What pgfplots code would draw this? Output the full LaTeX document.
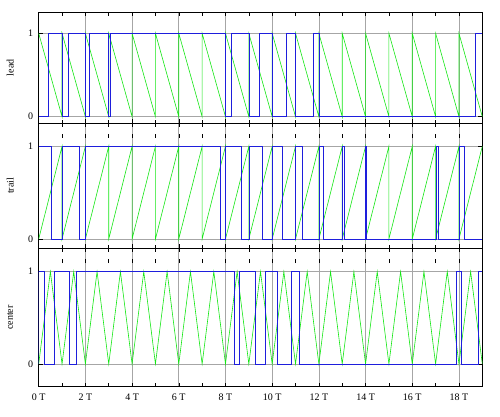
\documentclass[border=0pt]{standalone}
\usepackage{fontspec}
\setmainfont{Liberation Serif}
\usepackage{pgfplots}
\pgfplotsset{compat=1.18}
\definecolor{pwmcol}{RGB}{30,30,220}
\definecolor{carcol}{RGB}{20,230,20}
\tikzset{hid/.style={black, line width=0.5pt}}
\pgfplotsset{
  panel/.style={
    scale only axis, width=443.6pt,
    xmin=0, xmax=19,
    xtick={0,2,...,18}, minor xtick={1,3,...,17},
    ytick={0,1},
    tick align=inside, major tick length=4pt, minor tick length=3.5pt,
    tick style={black, line width=0.5pt},
    grid=major, major grid style={gray!70, line width=0.6pt},
    axis line style={line width=0.7pt},
    xticklabels={},
    yticklabel style={xshift=-2pt},
    /pgf/number format/assume math mode=true,
    ylabel style={at={(axis description cs:-0.0642,0.5)}, anchor=center},
    clip=true,
  },
  pwmline/.style={pwmcol, line width=0.6pt},
  carline/.style={carcol, line width=0.6pt},
}
\begin{document}
\begin{tikzpicture}
% ---------------- lead ----------------
\begin{axis}[panel, at={(38.7pt,404.7pt)}, anchor=north west, height=111pt,
  ymin=-0.079, ymax=1.252, ylabel={lead}]
\addplot[carline] coordinates {(0,1)(1,0)(1,1)(2,0)(2,1)(3,0)(3,1)(4,0)(4,1)(5,0)(5,1)(6,0)(6,1)(7,0)(7,1)(8,0)(8,1)(9,0)(9,1)(10,0)(10,1)(11,0)(11,1)(12,0)(12,1)(13,0)(13,1)(14,0)(14,1)(15,0)(15,1)(16,0)(16,1)(17,0)(17,1)(18,0)(18,1)(19,0)};
\addplot[pwmline] coordinates {(0,0)(0.41,0)(0.41,1)(1,1)(1,0)(1.27,0)(1.27,1)(2,1)(2,0)(2.17,0)(2.17,1)(3,1)(3,0)(3.08,0)(3.08,1)(8,1)(8,0)(8.24,0)(8.24,1)(9,1)(9,0)(9.45,0)(9.45,1)(10,1)(10,0)(10.59,0)(10.59,1)(11,1)(11,0)(11.76,0)(11.76,1)(12,1)(12,0)(18.7,0)(18.7,1)(19,1)};
\end{axis}
% ---------------- trail ----------------
\begin{axis}[panel, at={(38.7pt,293.7pt)}, anchor=north west, height=125pt,
  ymin=-0.1, ymax=1.248, ylabel={trail}]
\addplot[carline] coordinates {(0,0)(1,1)(1,0)(2,1)(2,0)(3,1)(3,0)(4,1)(4,0)(5,1)(5,0)(6,1)(6,0)(7,1)(7,0)(8,1)(8,0)(9,1)(9,0)(10,1)(10,0)(11,1)(11,0)(12,1)(12,0)(13,1)(13,0)(14,1)(14,0)(15,1)(15,0)(16,1)(16,0)(17,1)(17,0)(18,1)(18,0)(19,1)};
\addplot[pwmline] coordinates {(0,1)(0.56,1)(0.56,0)(1,0)(1,1)(1.74,1)(1.74,0)(2,0)(2,1)(7.79,1)(7.79,0)(8,0)(8,1)(8.68,1)(8.68,0)(9,0)(9,1)(9.58,1)(9.58,0)(10,0)(10,1)(10.43,1)(10.43,0)(11,0)(11,1)(11.29,1)(11.29,0)(12,0)(12,1)(12.19,1)(12.19,0)(13,0)(13,1)(13.09,1)(13.09,0)(14,0)(14,1)(14.02,1)(14.02,0)(17.03,0)(17.03,1)(17.11,1)(17.11,0)(18,0)(18,1)(18.23,1)(18.23,0)(19,0)};
\pgfplotsinvokeforeach{1,...,18}{\draw[hid] (axis cs:#1,1.093) -- (axis cs:#1,1.133);}
\end{axis}
% ---------------- center ----------------
\begin{axis}[panel, at={(38.7pt,168.7pt)}, anchor=north west, height=138.4pt,
  ymin=-0.246, ymax=1.253, ylabel={center},
  xticklabels={0 T,2 T,4 T,6 T,8 T,10 T,12 T,14 T,16 T,18 T},
  xticklabel style={yshift=-4pt}]
\addplot[carline] coordinates {(0,0)(0.5,1)(1,0)(1.5,1)(2,0)(2.5,1)(3,0)(3.5,1)(4,0)(4.5,1)(5,0)(5.5,1)(6,0)(6.5,1)(7,0)(7.5,1)(8,0)(8.5,1)(9,0)(9.5,1)(10,0)(10.5,1)(11,0)(11.5,1)(12,0)(12.5,1)(13,0)(13.5,1)(14,0)(14.5,1)(15,0)(15.5,1)(16,0)(16.5,1)(17,0)(17.5,1)(18,0)(18.5,1)(19,0)};
\addplot[pwmline] coordinates {(0,0)(0,1)(0.24,1)(0.24,0)(0.67,0)(0.67,1)(1.33,1)(1.33,0)(1.61,0)(1.61,1)(8.38,1)(8.38,0)(8.61,0)(8.61,1)(9.29,1)(9.29,0)(9.72,0)(9.72,1)(10.22,1)(10.22,0)(10.82,0)(10.82,1)(11.16,1)(11.16,0)(17.9,0)(17.9,1)(18.12,1)(18.12,0)(18.84,0)(18.84,1)(19,1)};
\pgfplotsinvokeforeach{1,...,18}{\draw[hid] (axis cs:#1,1.093) -- (axis cs:#1,1.133);}
\end{axis}
\pgfresetboundingbox
\useasboundingbox (0,0) rectangle (500pt,417pt);
\end{tikzpicture}
\end{document}
